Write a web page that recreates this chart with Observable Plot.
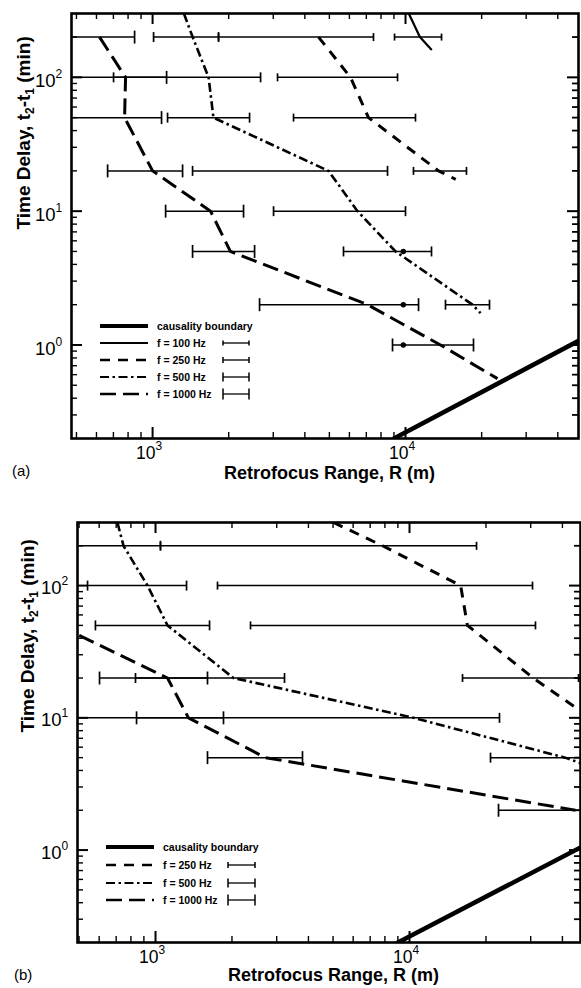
<!DOCTYPE html>
<html><head><meta charset="utf-8">
<script src="https://cdn.jsdelivr.net/npm/d3@7"></script>
<script src="https://cdn.jsdelivr.net/npm/@observablehq/plot@0.6"></script>
<style>
body{margin:0;background:#fff;}
#wrap{position:relative;width:581px;height:988px;font-family:"Liberation Sans",Arial,Helvetica,sans-serif;overflow:hidden;}
#wrap svg{position:absolute;left:0;}
.plab{position:absolute;font-size:15px;color:#000;}
</style></head><body><div id="wrap"></div>
<script>
// ---------- tick labels ----------
const xMajor = [1e3, 1e4];
const xExp = ["3", "4"];
const yMajor = [1, 10, 100];
const yExp = ["0", "1", "2"];
const xMinorAll = [500,600,700,800,900,2000,3000,4000,5000,6000,7000,8000,9000,20000,30000,40000];
const yMinorAll = [0.3,0.4,0.5,0.6,0.7,0.8,0.9,2,3,4,5,6,7,8,9,20,30,40,50,60,70,80,90,200];

// ---------- causality boundary (R = c t / 2) ----------
const causalR = [9000, 54000];
const causalT = [0.2, 1.2];

// ---------- panel (a) lines: retrofocus range R (m) vs delay t (min) ----------
const a100_R  = [10300, 11400, 12700];
const a100_t  = [300, 200, 160];
const a250_R  = [4530, 6060, 7140, 13500, 15800];
const a250_t  = [200, 100, 50, 20, 17.3];
const a500_R  = [1330, 1440, 1665, 1740, 4960, 6460, 9130, 18400, 19800];
const a500_t  = [300, 200, 100, 50, 20, 10, 5, 2, 1.73];
const a1000_R = [617, 782, 775, 1000, 1695, 2030, 7080, 13750, 23100];
const a1000_t = [200, 100, 50, 20, 10, 5, 2, 1, 0.56];

// ---------- panel (a) error bars ----------
const aBarT  = [200,200,200,200, 100,100,100, 50,50,50, 20,20,20, 10,10, 5,5, 2,2, 1];
const aBarF  = [1000,500,250,100, 1000,500,250, 1000,500,250, 1000,500,250, 1000,500, 1000,500, 1000,500, 1000];
const aBarLo = [470,1009,1823,9050, 470,701,3119, 470,1146,3608, 664,1439,10750, 1126,3008, 1439,5686, 2648,14390, 8884];
const aBarHi = [849,1823,7470,13880, 1136,2673,9300, 1085,2418,10950, 1314,8490,17420, 2289,10000, 2531,12670, 11260,21480, 18570];
const aDotT  = [5, 2, 1];
const aDotR  = [9800, 9800, 9800];

// ---------- panel (b) lines ----------
const b250_R  = [5020, 7830, 15900, 16900, 30700, 51600];
const b250_t  = [300, 200, 100, 50, 20, 10];
const b500_R  = [708, 748, 930, 1115, 2027, 10370, 41000, 48000];
const b500_t  = [300, 200, 100, 50, 20, 10, 5, 4.5];
const b1000_R = [415, 1115, 1348, 2710, 45000];
const b1000_t = [50, 20, 10, 5, 2];

// ---------- panel (b) error bars ----------
const bBarT  = [200,200, 100,100, 50,50, 20,20,20, 10,10, 5,5, 2];
const bBarF  = [500,250, 500,250, 500,250, 1000,500,250, 500,1000, 1000,500, 1000];
const bBarLo = [470,1046, 540,1754, 580,2366, 602,834,16170, 470,842, 1602,20840, 22410];
const bBarHi = [1046,18360, 1325,30500, 1632,31330, 1602,3220,46290, 22610,1852, 3790,60000, 60000];

// ---------- styles ----------
const lineStyle = {
  causal: {w: 4.5, dash: null},
  100:  {w: 2.2, dash: null},
  250:  {w: 3, dash: "10,8"},
  500:  {w: 2.6, dash: "9,3.5,2.5,3.5"},
  1000: {w: 3, dash: "16,7"}
};
const capR = {100: 3.5, 250: 4, 500: 5, 1000: 6.5};
const FONT = "'Liberation Sans', Arial, Helvetica, sans-serif";

const zip = (R, t) => R.map((r, i) => ({R: r, t: t[i]}));
const bars = (T, F, Lo, Hi) => T.map((t, i) => ({t, f: F[i], lo: Lo[i], hi: Hi[i]}));
const vbar = {draw(ctx, size) { const h = Math.sqrt(size / Math.PI); ctx.moveTo(0, -h); ctx.lineTo(0, h); }};

function makePanel(cfg) {
  const {width, height, ml, mr, mt, mb, xDomain, lines, barData, dotData} = cfg;
  const pw = width - ml - mr, ph = height - mt - mb;
  const xMin = xMinorAll.filter(v => v > xDomain[0] && v < xDomain[1]);
  const yMin = yMinorAll;
  const marks = [
    Plot.tickX(xMin, {x: d => d, insetTop: ph - 6, strokeWidth: 1.4}),
    Plot.tickX(xMin, {x: d => d, insetBottom: ph - 6, strokeWidth: 1.4}),
    Plot.tickX(xMajor, {x: d => d, insetTop: ph - 11, strokeWidth: 2}),
    Plot.tickX(xMajor, {x: d => d, insetBottom: ph - 11, strokeWidth: 2}),
    Plot.tickY(yMin, {y: d => d, insetRight: pw - 6, strokeWidth: 1.4}),
    Plot.tickY(yMin, {y: d => d, insetLeft: pw - 6, strokeWidth: 1.8}),
    Plot.tickY(yMajor, {y: d => d, insetRight: pw - 11, strokeWidth: 2}),
    Plot.tickY(yMajor, {y: d => d, insetLeft: pw - 11, strokeWidth: 2}),
    Plot.line(zip(causalR, causalT), {x: "R", y: "t", stroke: "black", strokeWidth: lineStyle.causal.w, clip: true}),
    ...lines.map(l => Plot.line(l.data, {x: "R", y: "t", stroke: "black", strokeWidth: lineStyle[l.f].w,
      strokeDasharray: lineStyle[l.f].dash, strokeLinecap: "butt", clip: true})),
    Plot.ruleY(barData, {y: "t", x1: "lo", x2: "hi", stroke: "black", strokeWidth: 1.5, clip: true}),
    ...[100, 250, 500, 1000].map(f => Plot.dot(
      barData.filter(b => b.f === f).flatMap(b => [{x: b.lo, t: b.t}, {x: b.hi, t: b.t}]),
      {x: "x", y: "t", symbol: vbar, r: capR[f], stroke: "black", strokeWidth: 1.7, fill: "none", clip: true})),
    Plot.dot(dotData, {x: "R", y: "t", r: 2.7, fill: "black", stroke: "none", clip: true}),
    Plot.frame({strokeWidth: 2.6}),
    Plot.text(xMajor, {x: d => d, frameAnchor: "bottom", text: () => "10", textAnchor: "end", lineAnchor: "bottom", dx: 3, dy: 20, fontSize: 17.5}),
    Plot.text(xMajor, {x: d => d, frameAnchor: "bottom", text: (d, i) => xExp[i], textAnchor: "start", lineAnchor: "bottom", dx: 3, dy: 11, fontSize: 12}),
    Plot.text(yMajor, {y: d => d, frameAnchor: "left", text: () => "10", textAnchor: "end", lineAnchor: "bottom", dx: -16, dy: cfg.yLabDy, fontSize: 18.5}),
    Plot.text(yMajor, {y: d => d, frameAnchor: "left", text: (d, i) => yExp[i], textAnchor: "start", lineAnchor: "bottom", dx: -16, dy: cfg.yLabDy - 9, fontSize: 12}),
    Plot.text(["Retrofocus Range, R (m)"], {frameAnchor: "bottom", text: d => d, lineAnchor: "bottom", dx: 4.5, dy: cfg.xTitleDy, fontSize: 18, fontWeight: "bold"}),
    Plot.text(["Time Delay, t2-t1 (min)"], {frameAnchor: "left", text: d => d, rotate: -90, lineAnchor: "middle", dx: cfg.yTitleDx, dy: cfg.yTitleDy, fontSize: 19, fontWeight: "bold"})
  ];
  const svg = Plot.plot({
    width, height, marginLeft: ml, marginRight: mr, marginTop: mt, marginBottom: mb,
    x: {type: "log", domain: xDomain, axis: null},
    y: {type: "log", domain: [0.2, 300], axis: null},
    style: {fontFamily: FONT, background: "transparent", overflow: "visible", color: "black"},
    marks
  });
  // subscripts in the y title
  d3.select(svg).selectAll("text").filter(function() { return this.textContent === "Time Delay, t2-t1 (min)"; })
    .each(function() {
      const t = d3.select(this); t.text(null);
      t.append("tspan").text("Time Delay, t");
      t.append("tspan").attr("font-size", 12).attr("dy", 4).text("2");
      t.append("tspan").attr("font-size", 19).attr("dy", -4).text("-t");
      t.append("tspan").attr("font-size", 12).attr("dy", 4).text("1");
      t.append("tspan").attr("font-size", 19).attr("dy", -4).text(" (min)");
    });
  return svg;
}

const wrap = document.getElementById("wrap");

const svgA = makePanel({
  width: 581, height: 490, ml: 71, mr: 3, mt: 13, mb: 52,
  xDomain: [478, 48300],
  lines: [
    {f: 100, data: zip(a100_R, a100_t)},
    {f: 250, data: zip(a250_R, a250_t)},
    {f: 500, data: zip(a500_R, a500_t)},
    {f: 1000, data: zip(a1000_R, a1000_t)}
  ],
  barData: bars(aBarT, aBarF, aBarLo, aBarHi),
  dotData: zip(aDotR, aDotT),
  yLabDy: 10, xTitleDy: 40, yTitleDx: -48, yTitleDy: 3.5
});
svgA.style.top = "0px";
wrap.appendChild(svgA);

const svgB = makePanel({
  width: 581, height: 498, ml: 77, mr: 1, mt: 32, mb: 46,
  xDomain: [493, 47120],
  lines: [
    {f: 250, data: zip(b250_R, b250_t)},
    {f: 500, data: zip(b500_R, b500_t)},
    {f: 1000, data: zip(b1000_R, b1000_t)}
  ],
  barData: bars(bBarT, bBarF, bBarLo, bBarHi),
  dotData: [],
  yLabDy: 8.5, xTitleDy: 38.5, yTitleDx: -50, yTitleDy: 0
});
svgB.style.top = "490px";
wrap.appendChild(svgB);

// ---------- legends ----------
const legendItems = {
  causal: {label: "causality boundary", cap: null},
  100: {label: "f = 100 Hz", cap: 5},
  250: {label: "f = 250 Hz", cap: 6},
  500: {label: "f = 500 Hz", cap: 9},
  1000: {label: "f = 1000 Hz", cap: 11}
};
const leg = d3.select(wrap).append("svg").attr("width", 581).attr("height", 988)
  .style("top", "0px").style("pointer-events", "none");
function drawLegend(keys, ys, lx0, lx1, tx, bx0, bx1) {
  keys.forEach((k, i) => {
    const y = ys[i], st = lineStyle[k], it = legendItems[k];
    leg.append("line").attr("x1", lx0).attr("x2", lx1).attr("y1", y).attr("y2", y)
      .attr("stroke", "black").attr("stroke-width", k === "causal" ? 4 : st.w * 0.85)
      .attr("stroke-dasharray", st.dash);
    leg.append("text").attr("x", tx).attr("y", y + 3.5).attr("font-size", 10.5).attr("font-weight", "bold")
      .attr("font-family", FONT).text(it.label);
    if (it.cap) {
      leg.append("line").attr("x1", bx0).attr("x2", bx1).attr("y1", y).attr("y2", y).attr("stroke", "black").attr("stroke-width", 1.3);
      [bx0, bx1].forEach(x => leg.append("line").attr("x1", x).attr("x2", x).attr("y1", y - it.cap / 2).attr("y2", y + it.cap / 2)
        .attr("stroke", "black").attr("stroke-width", 1.5));
    }
  });
}
drawLegend(["causal", 100, 250, 500, 1000], [326, 343, 360, 377, 394], 100, 148, 157, 223, 249);
drawLegend(["causal", 250, 500, 1000], [847, 865, 883, 900], 106, 154, 163, 228, 255);

// ---------- panel labels ----------
const la = document.createElement("div"); la.className = "plab"; la.textContent = "(a)";
la.style.left = "12px"; la.style.top = "462px"; wrap.appendChild(la);
const lb = document.createElement("div"); lb.className = "plab"; lb.textContent = "(b)";
lb.style.left = "14px"; lb.style.top = "966px"; wrap.appendChild(lb);
</script>
</body></html>
